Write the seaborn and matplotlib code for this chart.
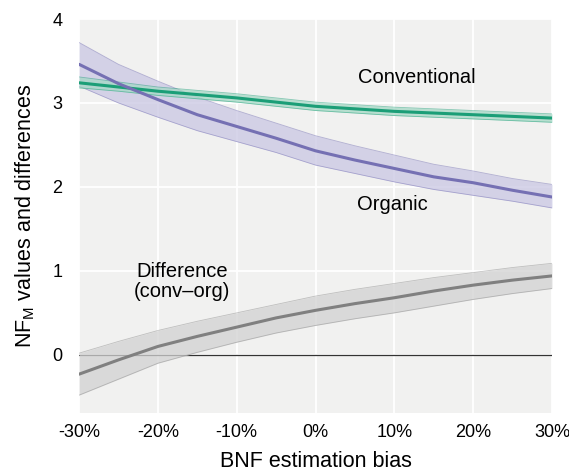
import numpy as np
import pandas as pd
import matplotlib
matplotlib.use("Agg")
import matplotlib.pyplot as plt
import seaborn as sns

sns.set_theme(style="darkgrid", rc={"axes.facecolor": "#f1f1f0", "grid.color": "white",
                                    "grid.linewidth": 1.3, "text.color": "black",
                                    "axes.labelcolor": "black", "xtick.color": "black",
                                    "ytick.color": "black"})
plt.rcParams['font.family'] = ['Liberation Sans', 'DejaVu Sans']

# BNF estimation bias (%)
bias = [-30, -25, -20, -15, -10, -5, 0, 5, 10, 15, 20, 25, 30]

conv = [3.24, 3.19, 3.14, 3.10, 3.06, 3.01, 2.96, 2.93, 2.90, 2.88, 2.86, 2.84, 2.82]
conv_lo = [3.18, 3.14, 3.09, 3.05, 3.01, 2.96, 2.91, 2.88, 2.85, 2.83, 2.81, 2.79, 2.77]
conv_hi = [3.31, 3.25, 3.19, 3.15, 3.11, 3.06, 3.01, 2.98, 2.95, 2.93, 2.91, 2.89, 2.87]

org = [3.46, 3.23, 3.04, 2.86, 2.72, 2.58, 2.43, 2.32, 2.22, 2.12, 2.05, 1.96, 1.88]
org_lo = [3.20, 3.00, 2.83, 2.67, 2.54, 2.41, 2.26, 2.16, 2.06, 1.97, 1.90, 1.83, 1.75]
org_hi = [3.72, 3.46, 3.26, 3.07, 2.91, 2.76, 2.61, 2.49, 2.38, 2.27, 2.19, 2.10, 2.03]

diff = [-0.23, -0.06, 0.10, 0.22, 0.33, 0.44, 0.53, 0.61, 0.68, 0.76, 0.83, 0.89, 0.94]
diff_lo = [-0.48, -0.29, -0.10, 0.03, 0.15, 0.26, 0.35, 0.43, 0.50, 0.58, 0.66, 0.73, 0.79]
diff_hi = [0.02, 0.16, 0.29, 0.40, 0.50, 0.60, 0.70, 0.78, 0.85, 0.92, 0.98, 1.04, 1.09]

xticks = [-30, -20, -10, 0, 10, 20, 30]
xticklabels = ['-30%', '-20%', '-10%', '0%', '10%', '20%', '30%']

df = pd.DataFrame({
    'bias': bias * 3,
    'value': conv + org + diff,
    'series': ['Conventional'] * len(bias) + ['Organic'] * len(bias) + ['Difference'] * len(bias),
})
palette = {'Conventional': '#1b9e77', 'Organic': '#7570b3', 'Difference': '#808080'}

fig = plt.figure(figsize=(5.69, 4.75), dpi=100)
ax = fig.add_axes([0.139, 0.131, 0.831, 0.829])

ax.axhline(0, color='#333333', lw=0.9, zorder=1)

bands = [(org_lo, org_hi, '#7570b3', '#c9c7e3'),
         (diff_lo, diff_hi, '#8c8c8c', '#d2d2d2'),
         (conv_lo, conv_hi, '#1b9e77', '#a4d8c5')]
for lo, hi, ec, fc in bands:
    ax.fill_between(bias, lo, hi, color=fc, alpha=0.75, lw=0, zorder=2)
    ax.plot(bias, lo, color=ec, lw=0.6, alpha=0.5, zorder=2)
    ax.plot(bias, hi, color=ec, lw=0.6, alpha=0.5, zorder=2)

sns.lineplot(data=df, x='bias', y='value', hue='series', palette=palette,
             lw=2.2, legend=False, ax=ax, zorder=3)

ax.text(12.8, 3.30, 'Conventional', ha='center', va='center', fontsize=14.5)
ax.text(9.8, 1.79, 'Organic', ha='center', va='center', fontsize=14.5)
ax.text(-16.9, 0.87, 'Difference\n(conv\u2013org)', ha='center', va='center', fontsize=14.5,
        linespacing=1.05)

ax.set_xlim(-30, 30)
ax.set_ylim(-0.69, 4.0)
ax.set_xticks(xticks)
ax.set_xticklabels(xticklabels)
ax.set_yticks([0, 1, 2, 3, 4])
ax.tick_params(axis='both', length=0, labelsize=13)
ax.tick_params(axis='x', pad=8)
ax.tick_params(axis='y', pad=12)
ax.set_xlabel('BNF estimation bias', fontsize=15.5, labelpad=7)
ax.set_ylabel('NF$_\\mathregular{M}$ values and differences', fontsize=15.5, labelpad=11)
for s in ax.spines.values():
    s.set_visible(False)

fig.savefig('out.png', dpi=100)
